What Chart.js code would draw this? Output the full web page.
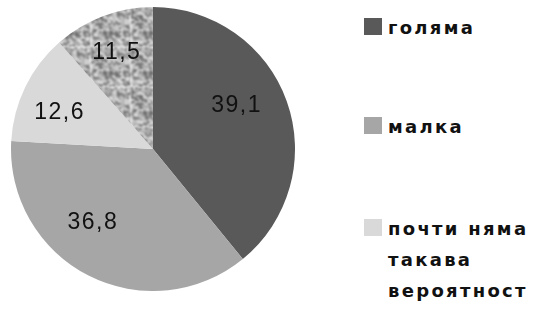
<!DOCTYPE html>
<html>
<head>
<meta charset="utf-8">
<script src="https://cdn.jsdelivr.net/npm/chart.js@4"></script>
<style>
  html, body { margin: 0; padding: 0; background: #fff; }
  body { width: 537px; height: 314px; position: relative; overflow: hidden; }
  #wrap { position: absolute; left: 11px; top: 7px; width: 284px; height: 284px; }
  .item { position: absolute; left: 364px; font: bold 18px "DejaVu Sans", sans-serif;
          letter-spacing: 2.3px; color: #111; line-height: 31px; }
  .item .box { position: absolute; left: 0; top: 6px; width: 18px; height: 17px; }
  .item .txt { margin-left: 24px; white-space: pre; }
</style>
</head>
<body>
<div id="wrap"><canvas id="myChart"></canvas></div>
<div id="legend"></div>
<script>
// data
const categories = ['голяма', 'малка', 'почти няма\nтакава\nвероятност', ''];
const values = [39.1, 36.8, 12.6, 11.5];
const colors = ['#595959', '#a6a6a6', '#d9d9d9', null];

// label nudges (px) from the 0.7*radius point
const labelNudge = [[-10, -10], [-15, -15], [-4, 7], [-1, -3]];
const legendTops = [12, 111, 213];

// mottled fill for the last slice
function speckle() {
    const n = 20, cell = 2, size = n * cell;
    const raw = document.createElement('canvas');
    raw.width = size; raw.height = size;
    const g = raw.getContext('2d');
    for (let y = 0; y < n; y++) {
        for (let x = 0; x < n; x++) {
            const h = Math.sin(x * 12.9898 + y * 78.233) * 43758.5453;
            const t = h - Math.floor(h);
            const v = t < 0.28 ? 110 : t < 0.6 ? 170 : t < 0.85 ? 200 : 232;
            g.fillStyle = `rgb(${v},${v},${v})`;
            g.fillRect(x * cell, y * cell, cell, cell);
        }
    }
    const c = document.createElement('canvas');
    c.width = size; c.height = size;
    const g2 = c.getContext('2d');
    g2.filter = 'blur(1px)';
    for (let dx = -1; dx <= 1; dx++)
        for (let dy = -1; dy <= 1; dy++)
            g2.drawImage(raw, dx * size, dy * size);
    return g2.createPattern(c, 'repeat');
}

const ctx = document.getElementById('myChart');
const fills = colors.map(c => c || speckle());

const valueLabels = {
    id: 'valueLabels',
    afterDatasetsDraw(chart) {
        const c = chart.ctx;
        const meta = chart.getDatasetMeta(0);
        c.save();
        c.font = '23px "Liberation Sans", sans-serif';
        c.letterSpacing = '1.5px';
        c.fillStyle = '#111';
        c.textAlign = 'center';
        c.textBaseline = 'middle';
        meta.data.forEach((arc, i) => {
            const mid = (arc.startAngle + arc.endAngle) / 2;
            const d = arc.outerRadius * 0.7;
            const x = arc.x + Math.cos(mid) * d + labelNudge[i][0];
            const y = arc.y + Math.sin(mid) * d + labelNudge[i][1];
            c.fillText(String(values[i]).replace('.', ','), x, y);
        });
        c.restore();
    }
};

const myChart = new Chart(ctx, {
    type: 'pie',
    data: {
        labels: categories,
        datasets: [{
            data: values,
            backgroundColor: fills,
            borderWidth: 0
        }]
    },
    options: {
        responsive: true,
        maintainAspectRatio: false,
        animation: false,
        layout: { padding: 0 },
        plugins: {
            legend: { display: false },
            tooltip: { enabled: false }
        }
    },
    plugins: [valueLabels]
});

// legend
const legend = document.getElementById('legend');
categories.forEach((name, i) => {
    if (!name) return;
    const item = document.createElement('div');
    item.className = 'item';
    item.style.top = legendTops[i] + 'px';
    const box = document.createElement('div');
    box.className = 'box';
    box.style.background = colors[i];
    const txt = document.createElement('div');
    txt.className = 'txt';
    txt.textContent = name;
    item.appendChild(box);
    item.appendChild(txt);
    legend.appendChild(item);
});
</script>
</body>
</html>
